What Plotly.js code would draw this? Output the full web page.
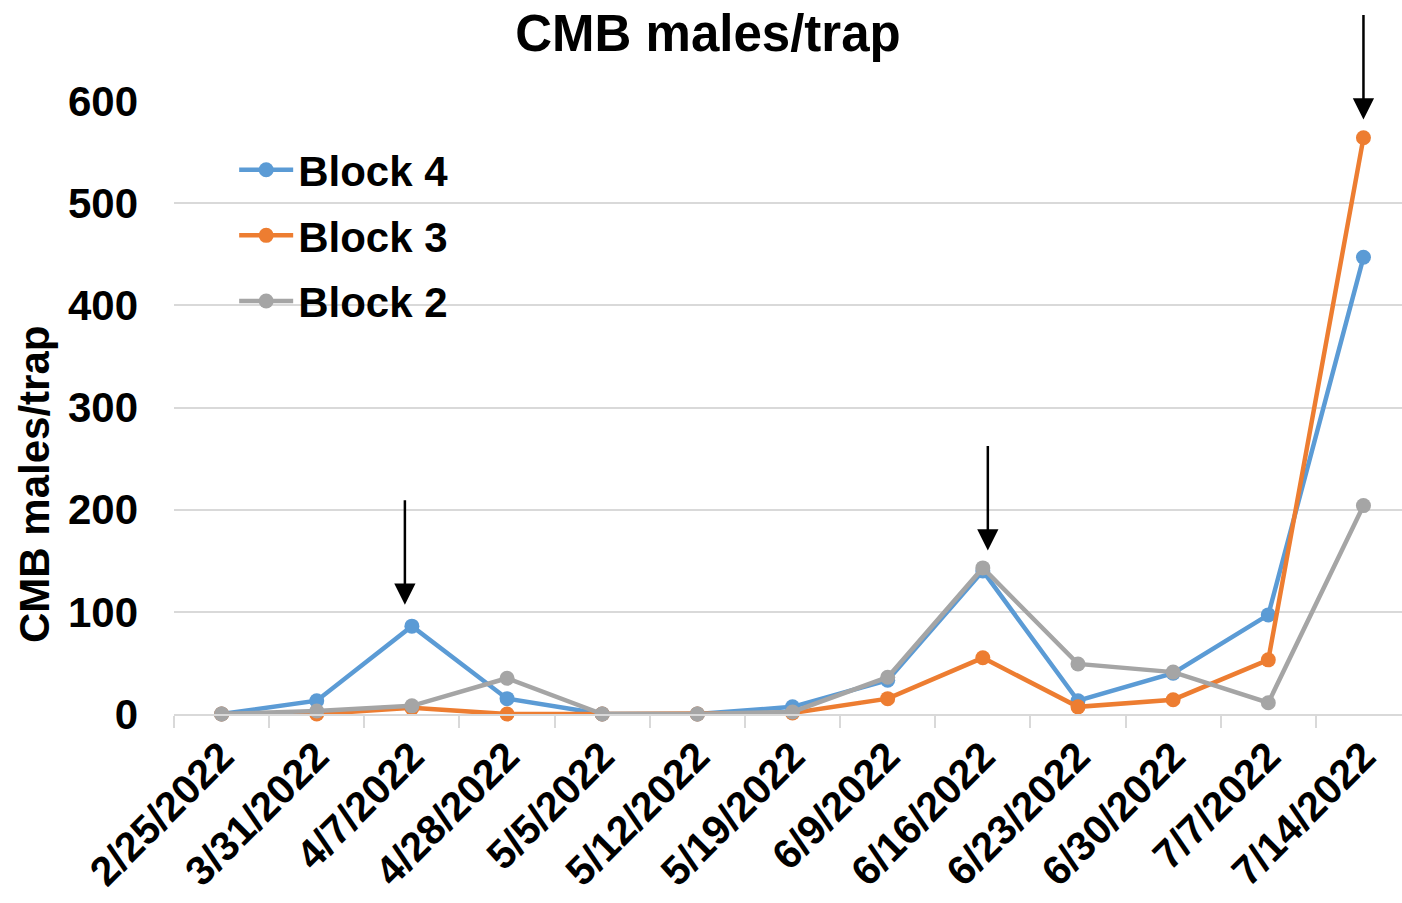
<!DOCTYPE html>
<html>
<head>
<meta charset="utf-8">
<script src="https://cdn.plot.ly/plotly-3.0.1.min.js"></script>
<style>html,body{margin:0;padding:0;background:#fff;}#chart{width:1402px;height:903px;}</style>
</head>
<body>
<div id="chart"></div>
<script>
const dates = ["2/25/2022","3/31/2022","4/7/2022","4/28/2022","5/5/2022","5/12/2022","5/19/2022","6/9/2022","6/16/2022","6/23/2022","6/30/2022","7/7/2022","7/14/2022"];
const block4 = [0, 13, 86, 15, 0, 0, 7, 33, 140, 13, 40, 97, 447];
const block3 = [0, 0, 6, 0, 0, 0, 1, 15, 55, 7, 14, 53, 564];
const block2 = [0, 3, 8, 35, 0, 0, 2, 36, 143, 49, 41, 11, 204];
const seriesNames = ["Block 4", "Block 3", "Block 2"];
const seriesColors = ["#5b9bd5", "#ed7d31", "#a5a5a5"];
const arrowDates = ["4/7/2022", "6/16/2022", "7/14/2022"];
const arrowTips = [107, 160, 582];
const arrowShifts = [-7, 5, 0];

const FONT = "Liberation Sans, Arial, sans-serif";
const data = [block4, block3, block2].map((vals, i) => ({
  x: dates, y: vals, name: seriesNames[i], type: "scatter", mode: "lines+markers",
  legendgroup: "g" + i,
  line: {color: seriesColors[i], width: 4.5},
  marker: {color: seriesColors[i], size: 15},
  cliponaxis: false
}));

const annotations = arrowDates.map((d, i) => ({
  x: d, y: arrowTips[i], xref: "x", yref: "y", text: "", showarrow: true, xshift: arrowShifts[i],
  ax: 0, ay: -106, arrowhead: 2, arrowsize: 1.7, arrowwidth: 2.5, arrowcolor: "#000"
}));
annotations.push({
  xref: "paper", yref: "paper", x: -0.113, y: 0.374, xanchor: "center", yanchor: "middle",
  text: "CMB males/trap", textangle: -90, showarrow: false,
  font: {family: FONT, size: 42, color: "#000", weight: "bold"}
});

const layout = {
  width: 1402, height: 903,
  margin: {l: 174, r: 0, t: 101, b: 189},
  paper_bgcolor: "#fff", plot_bgcolor: "#fff",
  title: {text: "CMB males/trap", x: 0.505, xanchor: "center", y: 0.963, yanchor: "middle",
          font: {family: FONT, size: 51, color: "#000", weight: "bold"}},
  showlegend: true,
  legend: {x: 0.049, y: 0.943, xanchor: "left", yanchor: "top", bgcolor: "rgba(0,0,0,0)",
           font: {family: FONT, size: 42, color: "#000", weight: "bold"}, tracegroupgap: 8, itemwidth: 54},
  xaxis: {type: "category", range: [-0.5, 12.405], tickangle: -45, automargin: false,
          tickfont: {family: FONT, size: 41, color: "#000", weight: "bold"},
          showgrid: false, showline: true, linecolor: "#d9d9d9", linewidth: 2,
          ticks: "outside", tickson: "boundaries", ticklen: 12, tickcolor: "#d9d9d9", tickwidth: 2,
          zeroline: false, fixedrange: true},
  yaxis: {range: [0, 600], dtick: 100, automargin: false,
          tickfont: {family: FONT, size: 42, color: "#000", weight: "bold"},
          showgrid: true, gridcolor: "#d9d9d9", gridwidth: 2, zeroline: false, showline: false,
          ticklabelstandoff: 35, fixedrange: true},
  annotations: annotations
};
Plotly.newPlot("chart", data, layout, {displayModeBar: false, staticPlot: true});
</script>
</body>
</html>
